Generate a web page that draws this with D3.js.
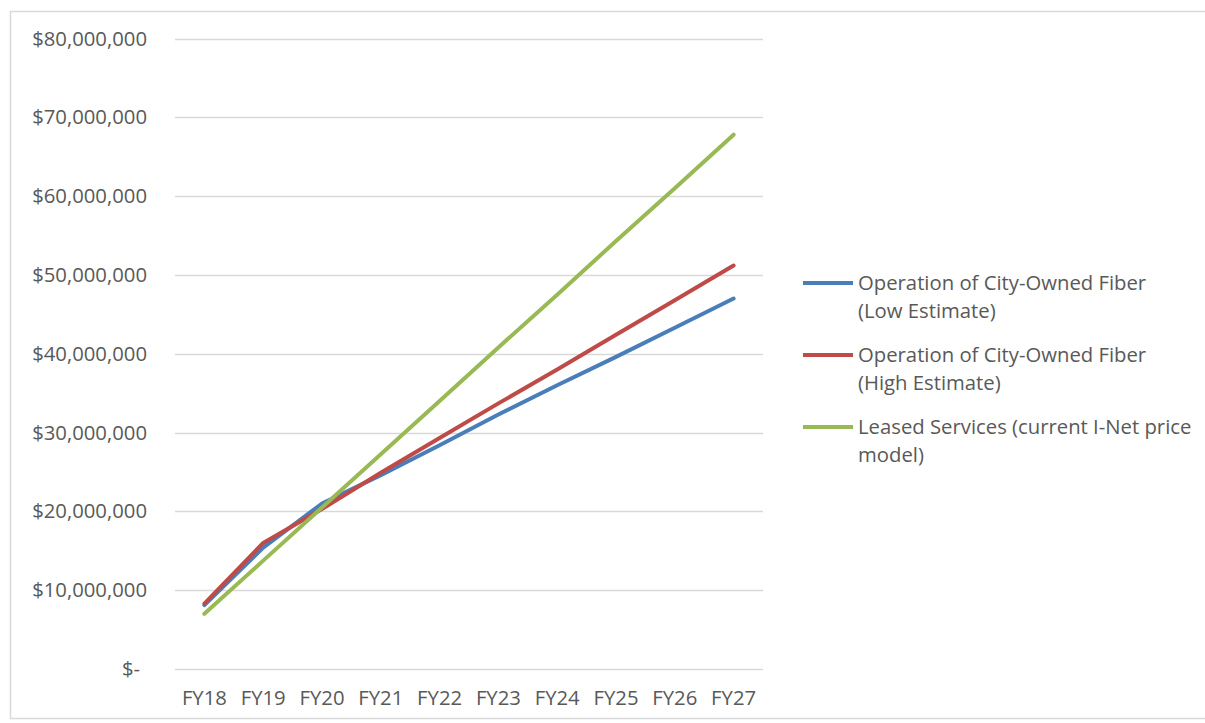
<!DOCTYPE html>
<html>
<head>
<meta charset="utf-8">
<script src="https://cdn.jsdelivr.net/npm/d3@7"></script>
<style>
  html, body { margin: 0; padding: 0; background: #ffffff; }
  svg { display: block; }
  text { font-family: "Open Sans", Lato, sans-serif; fill: #595959; }
</style>
</head>
<body>
<svg id="chart" width="1205" height="723"></svg>
<script>
// Fiscal years on the horizontal axis
const years = ["FY18", "FY19", "FY20", "FY21", "FY22", "FY23", "FY24", "FY25", "FY26", "FY27"];

// Cumulative cost in dollars for each scenario
const lowEstimate  = [8.1e6, 15.4e6, 21.0e6, 24.6e6, 28.4e6, 32.3e6, 36.0e6, 39.6e6, 43.3e6, 47.0e6];
const highEstimate = [8.3e6, 16.0e6, 20.3e6, 24.9e6, 29.3e6, 33.7e6, 38.0e6, 42.4e6, 46.8e6, 51.2e6];
const leased       = [7.0e6, 13.75e6, 20.5e6, 27.25e6, 34.0e6, 40.8e6, 47.5e6, 54.3e6, 61.0e6, 67.8e6];

// Vertical axis ticks
const yTicks = [0, 10e6, 20e6, 30e6, 40e6, 50e6, 60e6, 70e6, 80e6];

// Legend entries (text lines per entry)
const seriesNames = [
  ["Operation of City-Owned Fiber", "(Low Estimate)"],
  ["Operation of City-Owned Fiber", "(High Estimate)"],
  ["Leased Services (current I-Net price", "model)"]
];
const seriesColors = ["#4a7ebb", "#be4b48", "#98b954"];
const seriesValues = [lowEstimate, highEstimate, leased];

const fontSize = "20.3px";
const svg = d3.select("#chart");

// Chart area border
svg.append("rect")
  .attr("x", 10.5).attr("y", 11.5)
  .attr("width", 1210).attr("height", 707)
  .attr("fill", "none")
  .attr("stroke", "#d9d9d9")
  .attr("stroke-width", 1.5);

const x = d3.scalePoint().domain(years).range([175, 763]).padding(0.5);
const y = d3.scaleLinear().domain([0, 80e6]).range([669, 38.5]);

// Horizontal gridlines
svg.append("g")
  .selectAll("line")
  .data(yTicks)
  .join("line")
  .attr("x1", 175).attr("x2", 763)
  .attr("y1", d => Math.round(y(d)) + 0.5)
  .attr("y2", d => Math.round(y(d)) + 0.5)
  .attr("stroke", "#d9d9d9")
  .attr("stroke-width", 1.5);

// Y axis labels (accounting style, zero shown as "$-")
const fmt = d3.format(",");
svg.append("g")
  .selectAll("text")
  .data(yTicks)
  .join("text")
  .attr("x", d => d === 0 ? 140 : 147)
  .attr("y", d => y(d))
  .attr("dy", "0.35em")
  .attr("text-anchor", "end")
  .style("font-size", fontSize)
  .text(d => d === 0 ? "$-" : "$" + fmt(d));

// X axis labels
svg.append("g")
  .selectAll("text")
  .data(years)
  .join("text")
  .attr("x", d => x(d))
  .attr("y", 698)
  .attr("dy", "0.35em")
  .attr("text-anchor", "middle")
  .style("font-size", fontSize)
  .text(d => d);

// Series lines
const line = d3.line()
  .x((d, i) => x(years[i]))
  .y(d => y(d));

svg.append("g")
  .selectAll("path")
  .data(seriesValues)
  .join("path")
  .attr("d", d => line(d))
  .attr("fill", "none")
  .attr("stroke", (d, i) => seriesColors[i])
  .attr("stroke-width", 4)
  .attr("stroke-linecap", "round")
  .attr("stroke-linejoin", "round");

// Legend
const legendTop = [283, 355, 427];
const legend = svg.append("g");
seriesNames.forEach((lines, i) => {
  const g = legend.append("g");
  g.append("line")
    .attr("x1", 803).attr("x2", 853)
    .attr("y1", legendTop[i]).attr("y2", legendTop[i])
    .attr("stroke", seriesColors[i])
    .attr("stroke-width", 4);
  lines.forEach((t, j) => {
    g.append("text")
      .attr("x", 858)
      .attr("y", legendTop[i] + j * 27.5)
      .attr("dy", "0.35em")
      .style("font-size", fontSize)
      .text(t);
  });
});
</script>
</body>
</html>
